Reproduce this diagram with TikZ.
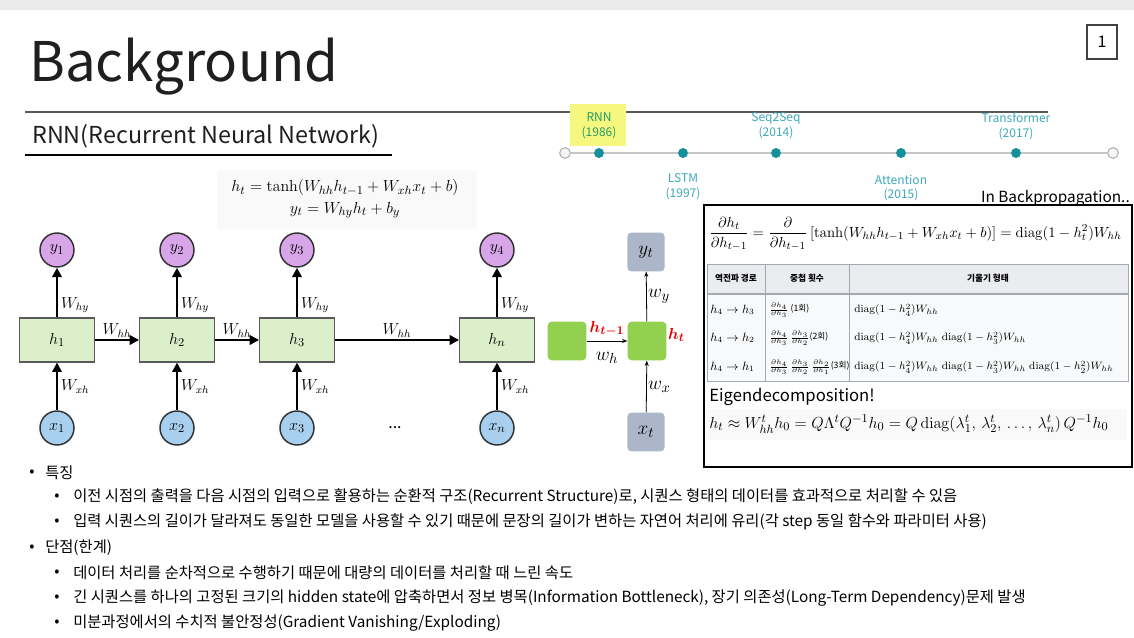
\documentclass[tikz,border=0pt]{standalone}
\usepackage{amsmath}
\usepackage[no-math]{fontspec}
\setmainfont{Noto Sans CJK KR}
\usetikzlibrary{arrows.meta}

\definecolor{topbar}{HTML}{EBEBEB}
\definecolor{tealdot}{HTML}{17909A}
\definecolor{tealtext}{HTML}{3EA9BA}
\definecolor{hlyellow}{HTML}{F6F77E}
\definecolor{ypurple}{HTML}{D8A6E8}
\definecolor{xblue}{HTML}{A8D0EE}
\definecolor{hgreen}{HTML}{DCEFCB}
\definecolor{cellgreen}{HTML}{92D050}
\definecolor{slate}{HTML}{ABB6C9}
\definecolor{hdrgray}{HTML}{EAECF0}
\definecolor{rowgray}{HTML}{F8F9FA}
\definecolor{tblline}{HTML}{A2A9B1}

\tikzset{
  ycirc/.style={circle, draw=black!80, line width=1.1pt, fill=ypurple, minimum size=25.5pt, inner sep=0pt, font=\fontsize{13}{13}\selectfont},
  xcirc/.style={circle, draw=black!80, line width=1.1pt, fill=xblue, minimum size=25.5pt, inner sep=0pt, font=\fontsize{13}{13}\selectfont},
  hbox/.style={rectangle, draw=gray!70!black, line width=0.9pt, fill=hgreen, minimum width=56pt, minimum height=33pt, font=\fontsize{13}{13}\selectfont},
  rnnarrow/.style={-{Triangle[length=7pt,width=7pt]}, line width=2pt},
  wlab/.style={font=\fontsize{12}{12}\selectfont, inner sep=2pt},
  gcell/.style={rectangle, rounded corners=3pt, fill=cellgreen, minimum width=29pt, minimum height=29pt},
  scell/.style={rectangle, rounded corners=3pt, fill=slate, minimum width=28pt, minimum height=29pt, font=\fontsize{15}{15}\selectfont},
  thinarrow/.style={-{Stealth[length=4pt,width=3pt]}, line width=0.6pt},
  redlab/.style={text=red!90!black, font=\fontsize{13}{13}\selectfont, inner sep=1pt},
  smlab/.style={font=\fontsize{15}{15}\selectfont, inner sep=1pt},
  tldot/.style={circle, fill=tealdot, minimum size=7.5pt, inner sep=0pt},
  tlend/.style={circle, draw=gray!60, fill=gray!8, minimum size=8pt, inner sep=0pt, line width=0.8pt},
  tllab/.style={text=tealtext, align=center, font=\fontsize{9}{11}\selectfont},
  hdr/.style={font=\fontsize{6.5}{7}\selectfont\bfseries},
  cella/.style={anchor=west, inner sep=0pt, font=\fontsize{9}{9}\selectfont},
  cellb/.style={anchor=west, inner sep=0pt, font=\fontsize{6.5}{7}\selectfont},
  cellc/.style={anchor=west, inner sep=0pt, font=\fontsize{8.3}{9}\selectfont},
  txt/.style={anchor=west, inner sep=0pt, font=\fontsize{11.5}{12}\selectfont},
}

\begin{document}
\begin{tikzpicture}[x=0.75pt, y=-0.75pt]

	%Background
	\useasboundingbox (0,0) rectangle (1134,638);
	\fill[white] (0,0) rectangle (1134,638);
	\fill[topbar] (0,0) rectangle (1134,10);

	%Title
	\node[anchor=base west, inner sep=0pt, text=black!88, font=\fontsize{41}{41}\selectfont] (title) at (29,82) {Background};
	\draw[gray!70!black, line width=1.5pt] (25,112) -- (1048,112);
	\node[anchor=base west, inner sep=0pt, text=black!88, font=\fontsize{17.5}{17.5}\selectfont] (subtitle) at (32,143) {RNN(Recurrent Neural Network)};
	\draw[black, line width=0.8pt] (25,155) -- (392,155);

	%Page number
	\node[draw=black!75, line width=0.8pt, minimum width=22.5pt, minimum height=25.5pt, font=\fontsize{12}{12}\selectfont] (pagenum) at (1102,42) {1};

	%Timeline
	\fill[hlyellow] (570,104) rectangle (626,146);
	\node[tlend] (t0) at (565,153) {};
	\node[tldot] (t1) at (599,153) {};
	\node[tldot] (t2) at (683,153) {};
	\node[tldot] (t3) at (776,153) {};
	\node[tldot] (t4) at (901,153) {};
	\node[tldot] (t5) at (1016,153) {};
	\node[tlend] (t6) at (1113,153) {};
	\foreach \a/\b in {t0/t1,t1/t2,t2/t3,t3/t4,t4/t5,t5/t6}
		\draw[gray!45, line width=1pt] (\a) -- (\b);
	\node[tllab, text=tealtext!70!green!80!black] (rnnyear) at (599,126) {RNN\\(1986)};
	\node[tllab] (lstmyear) at (683,187) {LSTM\\(1997)};
	\node[tllab] (seqyear) at (776,126) {Seq2Seq\\(2014)};
	\node[tllab] (attyear) at (901,188) {Attention\\(2015)};
	\node[tllab] (trfyear) at (1016,126) {Transformer\\(2017)};

	%Equations
	\fill[gray!5] (217,170) rectangle (477,229);
	\node[align=center, font=\fontsize{12.5}{16}\selectfont] (rnneq) at (345,199)
		{$h_t = \tanh(W_{hh}h_{t-1} + W_{xh}x_t + b)$\\$y_t = W_{hy}h_t + b_y$};

	%Unrolled RNN
	\foreach \n/\x/\yl/\hl/\xl in {1/57/y_1/h_1/x_1, 2/177/y_2/h_2/x_2, 3/297/y_3/h_3/x_3, 4/497/y_4/h_n/x_n}{
		\node[ycirc] (y\n) at (\x,250) {$\yl$};
		\node[hbox] (h\n) at (\x,340) {$\hl$};
		\node[xcirc] (x\n) at (\x,428) {$\xl$};
		\draw[rnnarrow] (h\n) -- node[wlab, pos=0.25, anchor=west] {$W_{hy}$} (y\n);
		\draw[rnnarrow] (x\n) -- node[wlab, midway, anchor=west] {$W_{xh}$} (h\n);
	}
	\draw[rnnarrow] (h1) -- node[wlab, above, inner sep=1pt] {$W_{hh}$} (h2);
	\draw[rnnarrow] (h2) -- node[wlab, above, inner sep=1pt] {$W_{hh}$} (h3);
	\draw[rnnarrow] (h3) -- node[wlab, above, inner sep=1pt] {$W_{hh}$} (h4);
	\node[font=\fontsize{12}{12}\selectfont] (dots) at (395,428) {...};

	%Single cell
	\node[scell] (yt) at (646,252) {$y_t$};
	\node[gcell] (hprev) at (567,341) {};
	\node[gcell] (ht) at (647,341) {};
	\node[scell] (xt) at (646,432) {$x_t$};
	\draw[thinarrow] (hprev) -- node[redlab, above=2pt] {$\boldsymbol{h_{t-1}}$} node[smlab, below=7pt] {$w_h$} (ht);
	\draw[thinarrow] (xt) -- node[smlab, right] {$w_x$} (ht);
	\draw[thinarrow] (ht) -- node[smlab, right] {$w_y$} (yt);
	\node[redlab, anchor=west] (htlab) at (ht.north east) [yshift=-10pt] {$\boldsymbol{h_t}$};

	%Backpropagation box
	\node[anchor=east, inner sep=0pt, font=\fontsize{11.5}{12}\selectfont] (bptitle) at (1130,198) {In Backpropagation..};
	\draw[black, line width=0.8pt] (704,205) rectangle (1132,467);
	\node[anchor=west, inner sep=0pt, font=\fontsize{10.8}{13}\selectfont] (dereq) at (709,234)
		{$\displaystyle \frac{\partial h_t}{\partial h_{t-1}} = \frac{\partial}{\partial h_{t-1}}\left[\tanh(W_{hh}h_{t-1} + W_{xh}x_t + b)\right] = \mathrm{diag}(1 - h_t^2)W_{hh}$};

	%Table
	\fill[hdrgray] (707,264) rectangle (1128,293);
	\fill[rowgray] (707,293) rectangle (1128,381);
	\draw[tblline, line width=0.6pt] (707,264) rectangle (1128,381);
	\draw[tblline, line width=0.6pt] (765,264) -- (765,381);
	\draw[tblline, line width=0.6pt] (849,264) -- (849,381);
	\draw[tblline, line width=2pt] (707,294) -- (1128,294);
	\node[hdr] (hdra) at (736,278) {역전파 경로};
	\node[hdr] (hdrb) at (807,278) {중첩 횟수};
	\node[hdr] (hdrc) at (988,278) {기울기 형태};

	\node[cella] (ra) at (710,310) {$h_4 \to h_3$};
	\node[cellb] (rb) at (769,310) {$\frac{\partial h_4}{\partial h_3}$ (1회)};
	\node[cellc] (rc) at (854,310) {$\mathrm{diag}(1-h_4^2)W_{hh}$};

	\node[cella] (sa) at (710,338) {$h_4 \to h_2$};
	\node[cellb] (sb) at (769,338) {$\frac{\partial h_4}{\partial h_3}\,\frac{\partial h_3}{\partial h_2}$(2회)};
	\node[cellc] (sc) at (854,338) {$\mathrm{diag}(1-h_4^2)W_{hh}\;\mathrm{diag}(1-h_3^2)W_{hh}$};

	\node[cella] (ua) at (710,367) {$h_4 \to h_1$};
	\node[cellb] (ub) at (769,367) {$\frac{\partial h_4}{\partial h_3}\,\frac{\partial h_3}{\partial h_2}\,\frac{\partial h_2}{\partial h_1}$(3회)};
	\node[cellc] (uc) at (854,367) {$\mathrm{diag}(1-h_4^2)W_{hh}\;\mathrm{diag}(1-h_3^2)W_{hh}\;\mathrm{diag}(1-h_2^2)W_{hh}$};

	%Eigendecomposition
	\node[anchor=west, inner sep=0pt, font=\fontsize{12.5}{12.5}\selectfont] (eigtitle) at (709,397) {Eigendecomposition!};
	\fill[gray!5] (706,409) rectangle (1127,440);
	\node[anchor=west, inner sep=0pt, font=\fontsize{12.7}{12.7}\selectfont] (eigeq) at (709,424)
		{$h_t \approx W_{hh}^t h_0 = Q\Lambda^t Q^{-1}h_0 = Q\,\mathrm{diag}(\lambda_1^t,\, \lambda_2^t,\, \ldots,\, \lambda_n^t)\,Q^{-1}h_0$};

	%Bullets
	\node[txt] (m1) at (29,473) {•};
	\node[txt] (m1t) at (45,473) {특징};
	\node[txt] (s1) at (54,497) {•};
	\node[txt] (s1t) at (73,497) {이전 시점의 출력을 다음 시점의 입력으로 활용하는 순환적 구조(Recurrent Structure)로, 시퀀스 형태의 데이터를 효과적으로 처리할 수 있음};
	\node[txt] (s2) at (54,522) {•};
	\node[txt] (s2t) at (73,522) {입력 시퀀스의 길이가 달라져도 동일한 모델을 사용할 수 있기 때문에 문장의 길이가 변하는 자연어 처리에 유리(각 step 동일 함수와 파라미터 사용)};
	\node[txt] (m2) at (29,548) {•};
	\node[txt] (m2t) at (45,548) {단점(한계)};
	\node[txt] (s3) at (54,573) {•};
	\node[txt] (s3t) at (73,573) {데이터 처리를 순차적으로 수행하기 때문에 대량의 데이터를 처리할 때 느린 속도};
	\node[txt] (s4) at (54,598) {•};
	\node[txt] (s4t) at (73,598) {긴 시퀀스를 하나의 고정된 크기의 hidden state에 압축하면서 정보 병목(Information Bottleneck), 장기 의존성(Long-Term Dependency)문제 발생};
	\node[txt] (s5) at (54,623) {•};
	\node[txt] (s5t) at (73,623) {미분과정에서의 수치적 불안정성(Gradient Vanishing/Exploding)};

\end{tikzpicture}
\end{document}
